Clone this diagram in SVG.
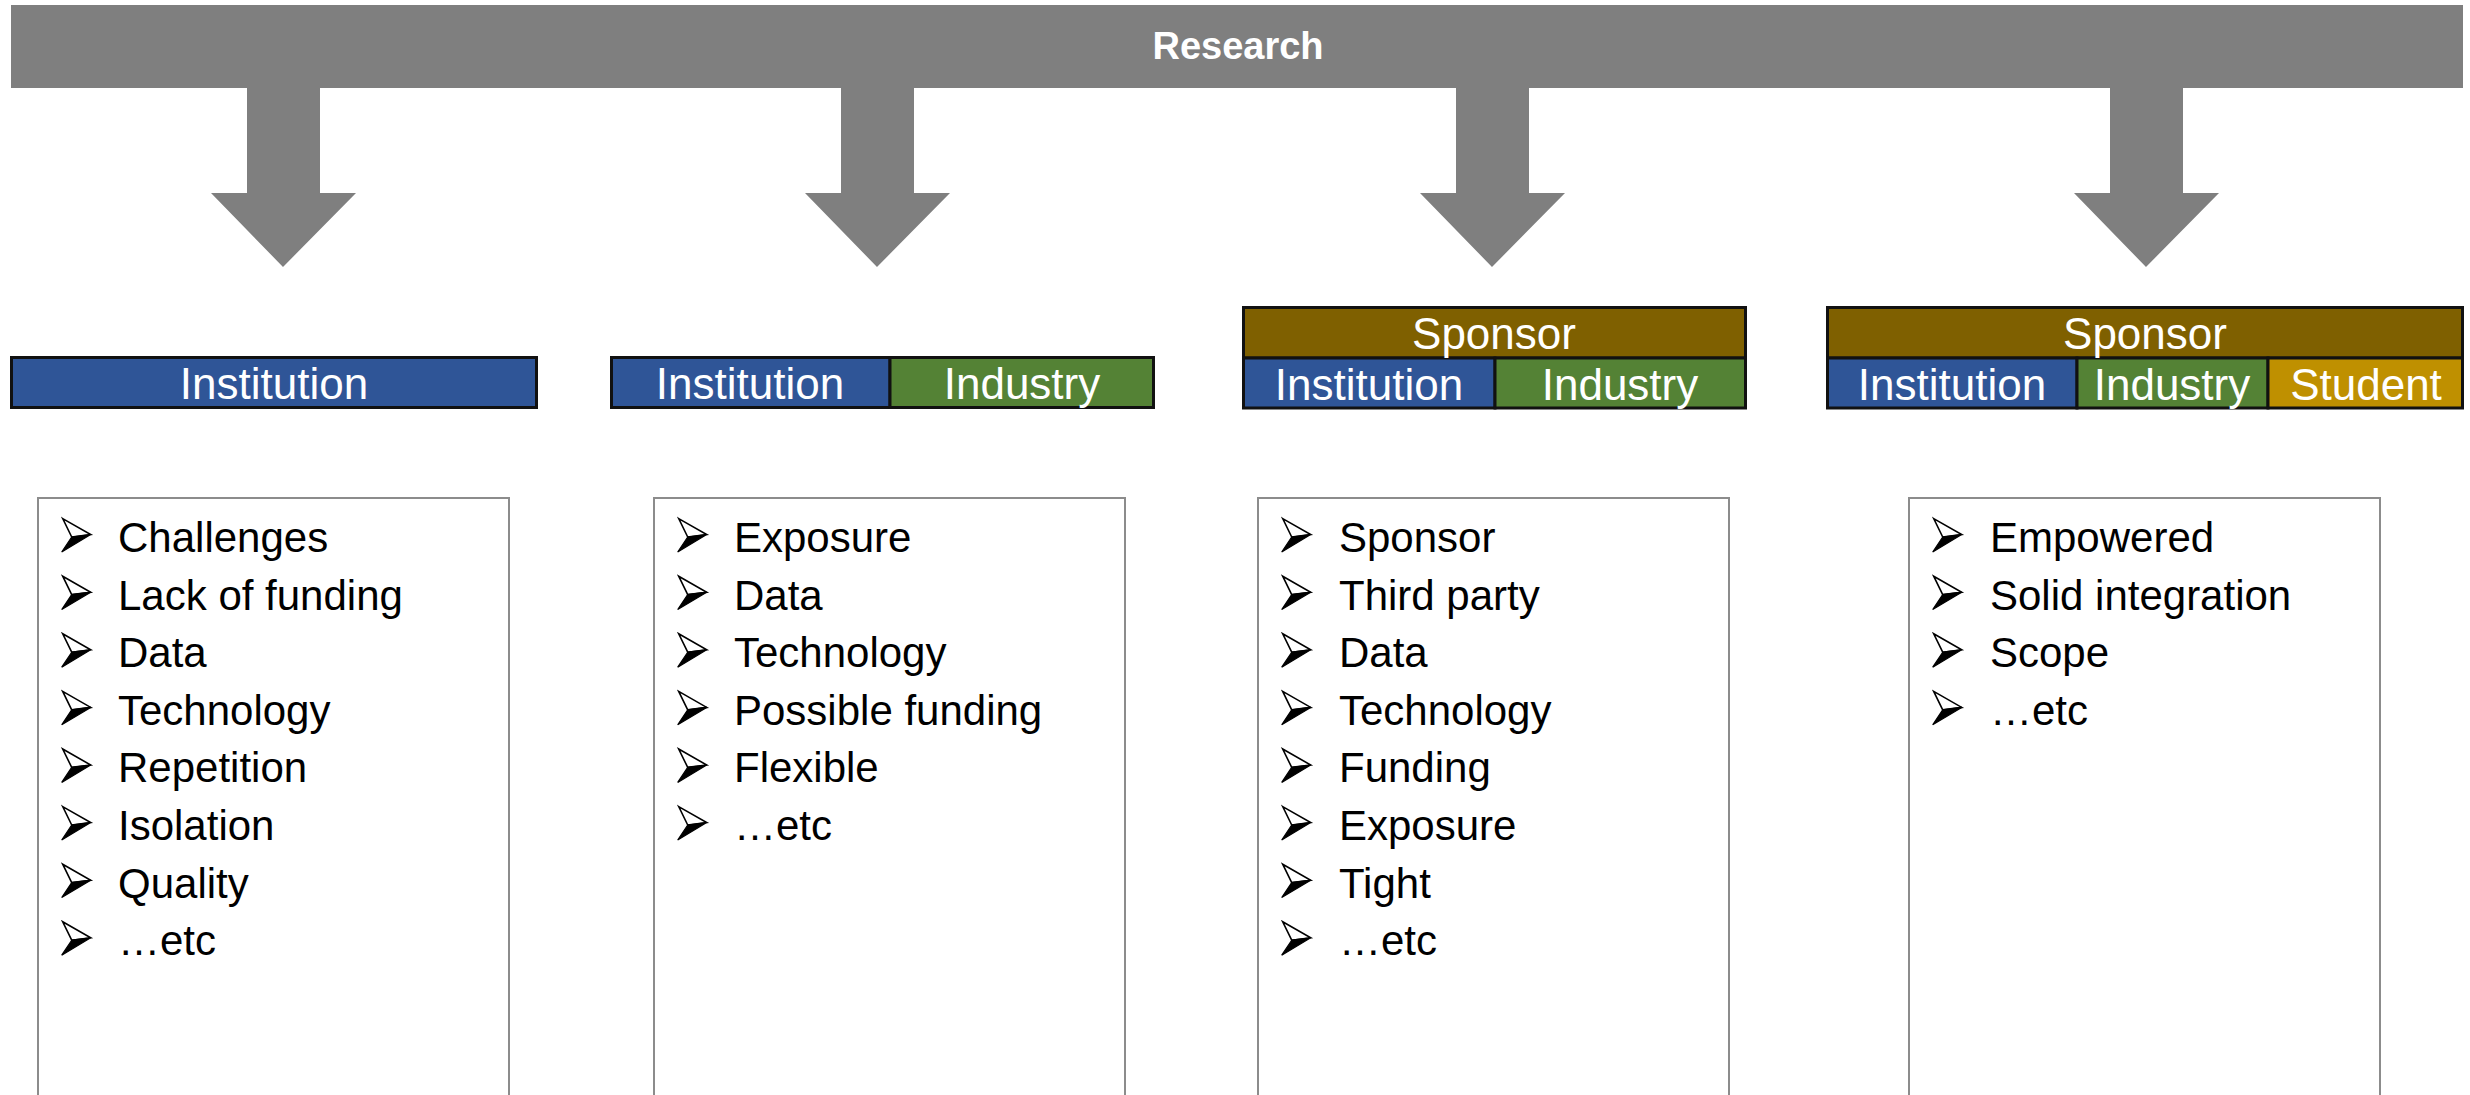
<svg xmlns="http://www.w3.org/2000/svg" xmlns:xlink="http://www.w3.org/1999/xlink" width="2470" height="1095" viewBox="0 0 2470 1095">
<style>
.bg{fill:#ffffff}
.research{fill:#7f7f7f}
.arrow{fill:#7f7f7f}
.cell{stroke:#111111;stroke-width:3}
.inst{fill:#2f5597}
.ind{fill:#548235}
.spon{fill:#7f6000}
.stu{fill:#bf9000}
.lbl{font-family:"Liberation Sans",Arial,sans-serif;font-size:44px;fill:#ffffff;text-anchor:middle}
.title{font-family:"Liberation Sans",Arial,sans-serif;font-size:38px;font-weight:bold;fill:#ffffff;text-anchor:middle}
.box{fill:#ffffff;stroke:#8c8c8c;stroke-width:2}
.item{font-family:"Liberation Sans",Arial,sans-serif;font-size:42px;fill:#000000}
</style>
<defs>
<g id="bullet">
<polygon points="0.7,-33.4 28.7,-17.4 9.7,-15" fill="#ffffff" stroke="#000000" stroke-width="1.6" stroke-linejoin="miter"/>
<polygon points="9.7,-15 28.7,-17.4 -0.3,0" fill="#000000" stroke="#000000" stroke-width="1.2"/>
</g>
</defs>
<rect class="bg" x="0" y="0" width="2470" height="1095"/>

<g id="research">
<rect class="research" x="11" y="5" width="2452" height="83"/>
<text class="title" x="1238" y="59">Research</text>
</g>

<g id="connectors">
<polygon class="arrow" points="247,87 320,87 320,193 356,193 283,267 211,193 247,193"/>
<polygon class="arrow" points="841,87 914,87 914,193 950,193 877,267 805,193 841,193"/>
<polygon class="arrow" points="1456,87 1529,87 1529,193 1565,193 1492,267 1420,193 1456,193"/>
<polygon class="arrow" points="2110,87 2183,87 2183,193 2219,193 2146,267 2074,193 2110,193"/>
</g>

<g id="bar1">
<rect class="cell inst" x="11.5" y="357.5" width="525" height="50"/>
<text class="lbl" x="274" y="399">Institution</text>
</g>

<g id="bar2">
<rect class="cell inst" x="611.5" y="357.5" width="278.5" height="50"/>
<rect class="cell ind" x="890" y="357.5" width="263.5" height="50"/>
<text class="lbl" x="750" y="399">Institution</text>
<text class="lbl" x="1022" y="399">Industry</text>
</g>

<g id="bar3">
<rect class="cell spon" x="1243.5" y="307.5" width="502" height="50.5"/>
<rect class="cell inst" x="1243.5" y="358" width="251.5" height="50"/>
<rect class="cell ind" x="1495" y="358" width="250.5" height="50"/>
<text class="lbl" x="1494" y="349">Sponsor</text>
<text class="lbl" x="1369" y="400">Institution</text>
<text class="lbl" x="1620" y="400">Industry</text>
</g>

<g id="bar4">
<rect class="cell spon" x="1827.5" y="307.5" width="635" height="50.5"/>
<rect class="cell inst" x="1827.5" y="358" width="249.5" height="50"/>
<rect class="cell ind" x="2077" y="358" width="191" height="50"/>
<rect class="cell stu" x="2268" y="358" width="194.5" height="50"/>
<text class="lbl" x="2145" y="349">Sponsor</text>
<text class="lbl" x="1952" y="400">Institution</text>
<text class="lbl" x="2172" y="400">Industry</text>
<text class="lbl" x="2366" y="400">Student</text>
</g>

<g id="list1">
<rect class="box" x="38" y="498" width="471" height="700"/>
<use xlink:href="#bullet" x="62" y="552"/>
<use xlink:href="#bullet" x="62" y="609.6"/>
<use xlink:href="#bullet" x="62" y="667.2"/>
<use xlink:href="#bullet" x="62" y="724.8"/>
<use xlink:href="#bullet" x="62" y="782.4"/>
<use xlink:href="#bullet" x="62" y="840"/>
<use xlink:href="#bullet" x="62" y="897.6"/>
<use xlink:href="#bullet" x="62" y="955.2"/>
<text class="item" x="118" y="552">Challenges</text>
<text class="item" x="118" y="609.6">Lack of funding</text>
<text class="item" x="118" y="667.2">Data</text>
<text class="item" x="118" y="724.8">Technology</text>
<text class="item" x="118" y="782.4">Repetition</text>
<text class="item" x="118" y="840">Isolation</text>
<text class="item" x="118" y="897.6">Quality</text>
<text class="item" x="118" y="955.2">…etc</text>
</g>

<g id="list2">
<rect class="box" x="654" y="498" width="471" height="700"/>
<use xlink:href="#bullet" x="678" y="552"/>
<use xlink:href="#bullet" x="678" y="609.6"/>
<use xlink:href="#bullet" x="678" y="667.2"/>
<use xlink:href="#bullet" x="678" y="724.8"/>
<use xlink:href="#bullet" x="678" y="782.4"/>
<use xlink:href="#bullet" x="678" y="840"/>
<text class="item" x="734" y="552">Exposure</text>
<text class="item" x="734" y="609.6">Data</text>
<text class="item" x="734" y="667.2">Technology</text>
<text class="item" x="734" y="724.8">Possible funding</text>
<text class="item" x="734" y="782.4">Flexible</text>
<text class="item" x="734" y="840">…etc</text>
</g>

<g id="list3">
<rect class="box" x="1258" y="498" width="471" height="700"/>
<use xlink:href="#bullet" x="1282" y="552"/>
<use xlink:href="#bullet" x="1282" y="609.6"/>
<use xlink:href="#bullet" x="1282" y="667.2"/>
<use xlink:href="#bullet" x="1282" y="724.8"/>
<use xlink:href="#bullet" x="1282" y="782.4"/>
<use xlink:href="#bullet" x="1282" y="840"/>
<use xlink:href="#bullet" x="1282" y="897.6"/>
<use xlink:href="#bullet" x="1282" y="955.2"/>
<text class="item" x="1339" y="552">Sponsor</text>
<text class="item" x="1339" y="609.6">Third party</text>
<text class="item" x="1339" y="667.2">Data</text>
<text class="item" x="1339" y="724.8">Technology</text>
<text class="item" x="1339" y="782.4">Funding</text>
<text class="item" x="1339" y="840">Exposure</text>
<text class="item" x="1339" y="897.6">Tight</text>
<text class="item" x="1339" y="955.2">…etc</text>
</g>

<g id="list4">
<rect class="box" x="1909" y="498" width="471" height="700"/>
<use xlink:href="#bullet" x="1933" y="552"/>
<use xlink:href="#bullet" x="1933" y="609.6"/>
<use xlink:href="#bullet" x="1933" y="667.2"/>
<use xlink:href="#bullet" x="1933" y="724.8"/>
<text class="item" x="1990" y="552">Empowered</text>
<text class="item" x="1990" y="609.6">Solid integration</text>
<text class="item" x="1990" y="667.2">Scope</text>
<text class="item" x="1990" y="724.8">…etc</text>
</g>
</svg>
